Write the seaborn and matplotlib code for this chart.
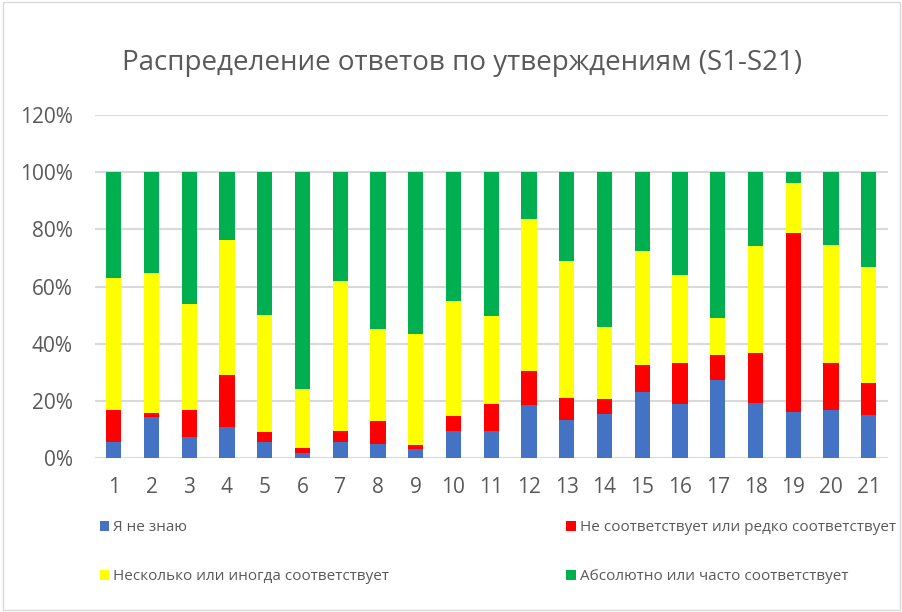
import numpy as np
import pandas as pd
import matplotlib
matplotlib.use("Agg")
import matplotlib.pyplot as plt
import seaborn as sns
from matplotlib.patches import Patch, Rectangle

# Shares of answers per statement (%)
statements = [str(i) for i in range(1, 22)]
dont_know = [5.5, 14.3, 7.2, 11.0, 5.5, 1.8, 5.7, 5.0, 3.0, 9.3, 9.6,
             18.7, 13.3, 15.4, 23.1, 18.9, 27.3, 19.2, 16.1, 16.8, 15.0]
rarely = [11.4, 1.4, 9.6, 17.9, 3.7, 1.6, 3.8, 8.0, 1.6, 5.5, 9.4,
          11.7, 7.8, 5.2, 9.5, 14.4, 8.6, 17.6, 62.8, 16.3, 11.1]
sometimes = [46.0, 48.9, 37.1, 47.4, 41.0, 20.8, 52.5, 32.0, 38.9, 40.0, 30.8,
             53.1, 47.8, 25.3, 39.8, 30.8, 13.2, 37.4, 17.2, 41.5, 40.6]
often = [37.1, 35.4, 46.1, 23.7, 49.8, 75.8, 38.0, 55.0, 56.5, 45.2, 50.2,
         16.5, 31.1, 54.1, 27.6, 35.9, 50.9, 25.8, 3.9, 25.4, 33.3]

labels = ["Я не знаю",
          "Не соответствует или редко соответствует",
          "Несколько или иногда соответствует",
          "Абсолютно или часто соответствует"]
colors = ["#4472C4", "#FF0000", "#FFFF00", "#00B050"]

df = pd.DataFrame({"statement": statements, labels[0]: dont_know,
                   labels[1]: rarely, labels[2]: sometimes, labels[3]: often})
cum = df[labels].cumsum(axis=1)

sns.set_theme(style="white")
plt.rcParams["font.family"] = ["Open Sans", "DejaVu Sans"]
text_col = "#595959"

fig = plt.figure(figsize=(9.03, 6.12), dpi=100)
ax = fig.add_axes([0.105, 0.2516, 0.878, 0.5604])

# stacked bars: draw the cumulative tops from largest to smallest
for lab, col in reversed(list(zip(labels, colors))):
    sns.barplot(x=df["statement"], y=cum[lab], color=col, width=0.4,
                saturation=1, ax=ax, zorder=3, linewidth=0)

ax.set_ylim(0, 120)
ax.set_xlim(-0.5, 20.5)
ax.set_yticks(np.arange(0, 121, 20))
ax.set_yticklabels([f"{v}%" for v in range(0, 121, 20)])
ax.yaxis.grid(True, color="#D9D9D9", linewidth=1.5, zorder=0)
ax.set_axisbelow(True)
for s in ax.spines.values():
    s.set_visible(False)
ax.set_xlabel("")
ax.set_ylabel("")
ax.tick_params(axis="both", length=0, labelsize=15, colors=text_col)
ax.tick_params(axis="x", pad=14)
ax.tick_params(axis="y", pad=16)

fig.text(0.512, 0.897, "Распределение ответов по утверждениям (S1-S21)",
         ha="center", va="center", fontsize=20, color=text_col)

handles = [Patch(facecolor=c, edgecolor="none") for c in colors]
leg_kw = dict(loc="upper left", frameon=False, fontsize=11, labelcolor=text_col,
              handlelength=0.6, handleheight=0.6, handletextpad=0.3,
              labelspacing=2.2)
fig.legend([handles[0], handles[2]], [labels[0], labels[2]],
           bbox_to_anchor=(0.095, 0.172), **leg_kw)
fig.legend([handles[1], handles[3]], [labels[1], labels[3]],
           bbox_to_anchor=(0.612, 0.172), **leg_kw)

fig.patches.append(Rectangle((0.003, 0.003), 0.994, 0.994, transform=fig.transFigure,
                             fill=False, edgecolor="#D9D9D9", linewidth=1))

fig.savefig("out.png", dpi=100)
